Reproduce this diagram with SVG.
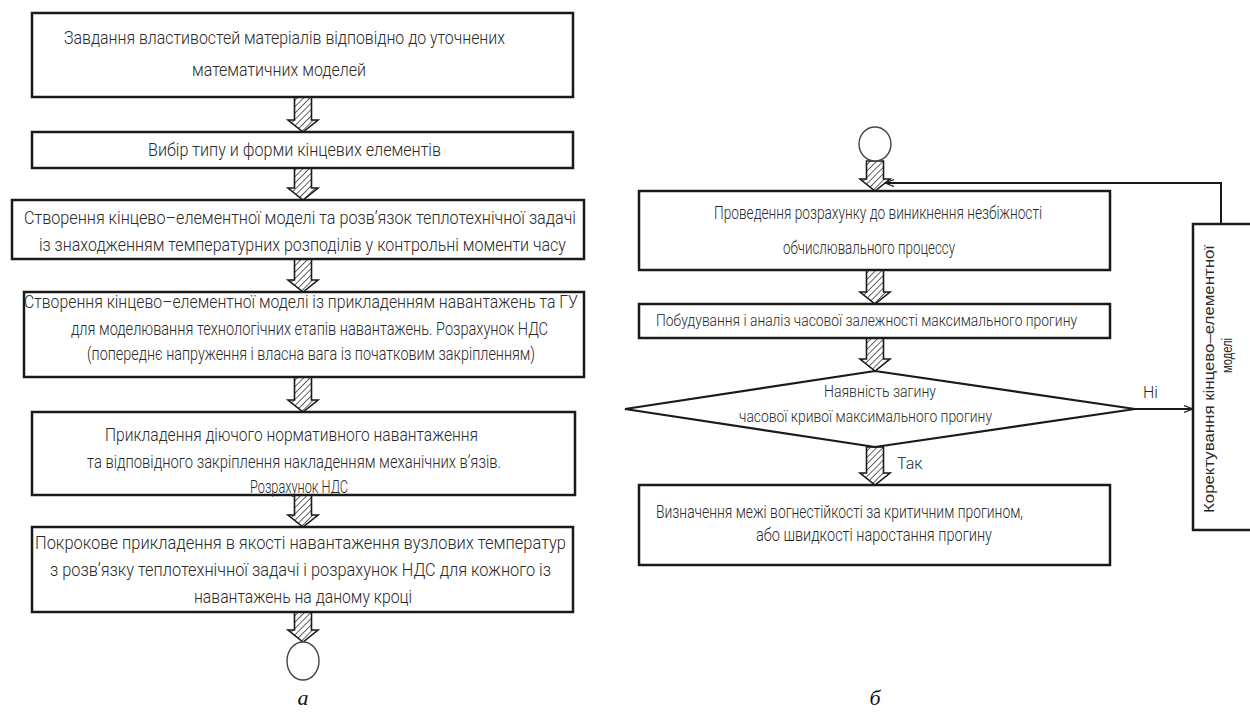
<svg xmlns="http://www.w3.org/2000/svg" width="1250" height="713" viewBox="0 0 1250 713">
<defs>
<pattern id="hatch" patternUnits="userSpaceOnUse" width="4.5" height="4.5" patternTransform="rotate(45)">
<rect width="4.5" height="4.5" fill="#fff"/>
<line x1="0" y1="0" x2="0" y2="4.5" stroke="#222" stroke-width="1.4"/>
</pattern>
<marker id="ah" markerWidth="10" markerHeight="8" refX="9" refY="4" orient="auto" markerUnits="userSpaceOnUse">
<path d="M0,0.5 L9,4 L0,7.5" fill="none" stroke="#222" stroke-width="1.2"/>
</marker>
<style>
.box{fill:#fff;stroke:#1a1a1a;stroke-width:2.5}
.dia{fill:none;stroke:#1a1a1a;stroke-width:2.2}
.t{font-family:Roboto,"DejaVu Sans","Liberation Sans",sans-serif;font-weight:300;font-size:18px;fill:#2a2a2a}
.ts{font-family:Roboto,"DejaVu Sans","Liberation Sans",sans-serif;font-weight:300;font-size:16px;fill:#2a2a2a}
.tv{font-family:"Liberation Sans",Arial,sans-serif;font-size:14px;fill:#2a2a2a}
.cap{font-family:"Liberation Serif","Times New Roman",serif;font-size:22px;font-style:italic;fill:#111}
.arr{fill:url(#hatch);stroke:#1a1a1a;stroke-width:1.6;stroke-linejoin:miter}
.ln{fill:none;stroke:#1a1a1a;stroke-width:2}
.circ{fill:#fff;stroke:#444;stroke-width:1.4}
</style>
</defs>
<rect width="1250" height="713" fill="#fff"/>

<g id="connectors">
<path class="arr" d="M294.5,97 L311.5,97 L311.5,120 L318,120 L303,132 L288,120 L294.5,120 Z"/>
<path class="arr" d="M294.5,168 L311.5,168 L311.5,188 L318,188 L303,200 L288,188 L294.5,188 Z"/>
<path class="arr" d="M294.5,259 L311.5,259 L311.5,280 L318,280 L303,292 L288,280 L294.5,280 Z"/>
<path class="arr" d="M294.5,377 L311.5,377 L311.5,400 L318,400 L303,412 L288,400 L294.5,400 Z"/>
<path class="arr" d="M294.5,495 L311.5,495 L311.5,515 L318,515 L303,527 L288,515 L294.5,515 Z"/>
<path class="arr" d="M294.5,612 L311.5,612 L311.5,630 L318,630 L303,642 L288,630 L294.5,630 Z"/>

<path class="arr" d="M866.5,161 L883.5,161 L883.5,179 L890,179 L875,191 L860,179 L866.5,179 Z"/>
<path class="arr" d="M866.5,270 L883.5,270 L883.5,292 L890,292 L875,304 L860,292 L866.5,292 Z"/>
<path class="arr" d="M866.5,338 L883.5,338 L883.5,359 L890,359 L875,371 L860,359 L866.5,359 Z"/>
<path class="arr" d="M866.5,447 L883.5,447 L883.5,473 L890,473 L875,485 L860,473 L866.5,473 Z"/>

<polyline class="ln" points="1221,224 1221,183 885,183" marker-end="url(#ah)"/>
<line class="ln" x1="1135" y1="409" x2="1193" y2="409" marker-end="url(#ah)"/>
<text class="ts" x="1143" y="398">Ні</text>
<text class="ts" x="897" y="469">Так</text>
</g>

<g id="end-a"><ellipse class="circ" cx="303" cy="661" rx="16" ry="19"/></g>
<g id="start-b"><ellipse class="circ" cx="875" cy="144" rx="16" ry="17"/></g>

<g id="n1">
<rect class="box" x="32" y="13" width="541" height="84"/>
<text class="t" x="64" y="44" textLength="441" lengthAdjust="spacingAndGlyphs">Завдання властивостей матеріалів відповідно до уточнених</text>
<text class="t" x="192" y="76" textLength="174" lengthAdjust="spacingAndGlyphs">математичних моделей</text>
</g>
<g id="n2">
<rect class="box" x="32" y="132" width="541" height="36"/>
<text class="t" x="148" y="156" textLength="293" lengthAdjust="spacingAndGlyphs">Вибір типу и форми кінцевих елементів</text>
</g>
<g id="n3">
<rect class="box" x="12" y="200" width="572" height="59"/>
<text class="t" x="24" y="224" textLength="552" lengthAdjust="spacingAndGlyphs">Створення кінцево–елементної моделі та розв’язок теплотехнічної задачі</text>
<text class="t" x="39" y="251" textLength="527" lengthAdjust="spacingAndGlyphs">із знаходженням температурних розподілів у контрольні моменти часу</text>
</g>
<g id="n4">
<rect class="box" x="24" y="292" width="560" height="85"/>
<text class="t" x="24" y="308" textLength="554" lengthAdjust="spacingAndGlyphs">Створення кінцево–елементної моделі із прикладенням навантажень та ГУ</text>
<text class="t" x="71" y="335" textLength="477" lengthAdjust="spacingAndGlyphs">для моделювання технологічних етапів навантажень. Розрахунок НДС</text>
<text class="t" x="87" y="360" textLength="448" lengthAdjust="spacingAndGlyphs">(попереднє напруження і власна вага із початковим закріпленням)</text>
</g>
<g id="n5">
<rect class="box" x="32" y="412" width="543" height="83"/>
<text class="t" x="105" y="441" textLength="373" lengthAdjust="spacingAndGlyphs">Прикладення діючого нормативного навантаження</text>
<text class="t" x="87" y="468" textLength="414" lengthAdjust="spacingAndGlyphs">та відповідного закріплення накладенням механічних в’язів.</text>
<text class="t" x="250" y="493" textLength="98" lengthAdjust="spacingAndGlyphs">Розрахунок НДС</text>
</g>
<g id="n6">
<rect class="box" x="32" y="527" width="541" height="85"/>
<text class="t" x="35" y="549" textLength="531" lengthAdjust="spacingAndGlyphs">Покрокове прикладення в якості навантаження вузлових температур</text>
<text class="t" x="50" y="576" textLength="501" lengthAdjust="spacingAndGlyphs">з розв’язку теплотехнічної задачі і розрахунок НДС для кожного із</text>
<text class="t" x="194" y="603" textLength="218" lengthAdjust="spacingAndGlyphs">навантажень на даному кроці</text>
</g>

<g id="n7">
<rect class="box" x="639" y="191" width="471" height="79"/>
<text class="t" x="714" y="219" textLength="328" lengthAdjust="spacingAndGlyphs">Проведення розрахунку до виникнення незбіжності</text>
<text class="t" x="783" y="254" textLength="172" lengthAdjust="spacingAndGlyphs">обчислювального процессу</text>
</g>
<g id="n8">
<rect class="box" x="639" y="304" width="471" height="34"/>
<text class="ts" x="656" y="326" textLength="421" lengthAdjust="spacingAndGlyphs">Побудування і аналіз часової залежності максимального прогину</text>
</g>
<g id="n9">
<polygon class="dia" points="875,371 1135,409 875,447 625,409"/>
<text class="ts" x="824" y="397" textLength="112" lengthAdjust="spacingAndGlyphs">Наявність загину</text>
<text class="ts" x="739" y="422" textLength="253" lengthAdjust="spacingAndGlyphs">часової кривої максимального прогину</text>
</g>
<g id="n10">
<rect class="box" x="639" y="485" width="471" height="80"/>
<text class="t" x="656" y="518" textLength="367" lengthAdjust="spacingAndGlyphs">Визначення межі вогнестійкості за критичним прогином,</text>
<text class="t" x="756" y="541" textLength="236" lengthAdjust="spacingAndGlyphs">або швидкості наростання прогину</text>
</g>
<g id="n11">
<rect class="box" x="1193" y="224" width="70" height="306" stroke-width="2"/>
<text class="tv" transform="translate(1214,513) rotate(-90)" textLength="268" lengthAdjust="spacingAndGlyphs">Коректування  кінцево–елементної</text>
<text class="tv" transform="translate(1232,373) rotate(-90)" textLength="35" lengthAdjust="spacingAndGlyphs">моделі</text>
</g>

<text class="cap" x="303" y="705" text-anchor="middle">а</text>
<text class="cap" x="875" y="705" text-anchor="middle">б</text>
</svg>
